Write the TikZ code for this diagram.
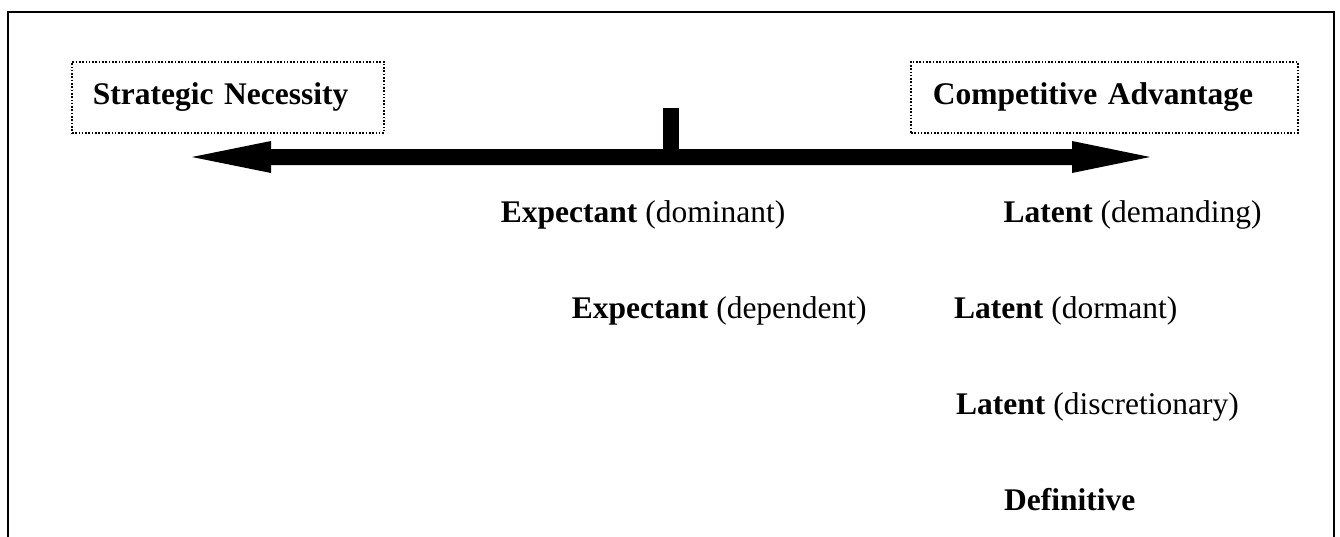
\documentclass[tikz,border=0pt]{standalone}
\usepackage{fontspec}
\setmainfont{Liberation Serif}
\begin{document}
\begin{tikzpicture}[x=1pt,y=-1pt,
  frame/.style={line width=2pt},
  dotbox/.style={draw, line width=1.8pt, dash pattern=on 1.6pt off 1.7pt,
    anchor=north west, minimum height=71pt, inner ysep=0pt, align=left,
    font=\fontsize{31.5}{36}\selectfont\bfseries},
  lbl/.style={anchor=base west, inner sep=0pt, font=\fontsize{31.5}{36}\selectfont}]
\useasboundingbox (0,0) rectangle (1340,536);
% outer frame (open at bottom)
\draw[frame] (8,540) -- (8,11.7) -- (1334,11.7) -- (1334,540);
% boxes
\node[dotbox, minimum width=312pt, text width=270pt, inner xsep=20.7pt] (sn) at (71,61) {Strategic Necessity};
\node[dotbox, minimum width=387pt, text width=343pt, inner xsep=22pt] (ca) at (910,61) {Competitive Advantage};
% double arrow
\coordinate (lt) at (192,157);
\coordinate (rt) at (1150,157);
\fill (lt) -- (271,141) -- (271,149) -- (1072,149) -- (1072,141) -- (rt)
  -- (1072,173) -- (1072,165) -- (271,165) -- (271,173) -- cycle;
% tick
\fill (663.3,108.3) rectangle (679.3,150);
% labels
\node[lbl] (e1) at (500.7,222.7) {\textbf{Expectant} (dominant)};
\node[lbl] (l1) at (1003.3,222.7) {\textbf{Latent} (demanding)};
\node[lbl] (e2) at (571.7,318) {\textbf{Expectant} (dependent)};
\node[lbl] (l2) at (954,318) {\textbf{Latent} (dormant)};
\node[lbl] (l3) at (956,414) {\textbf{Latent} (discretionary)};
\node[lbl] (d1) at (1004,510) {\textbf{Definitive}};
\end{tikzpicture}
\end{document}
